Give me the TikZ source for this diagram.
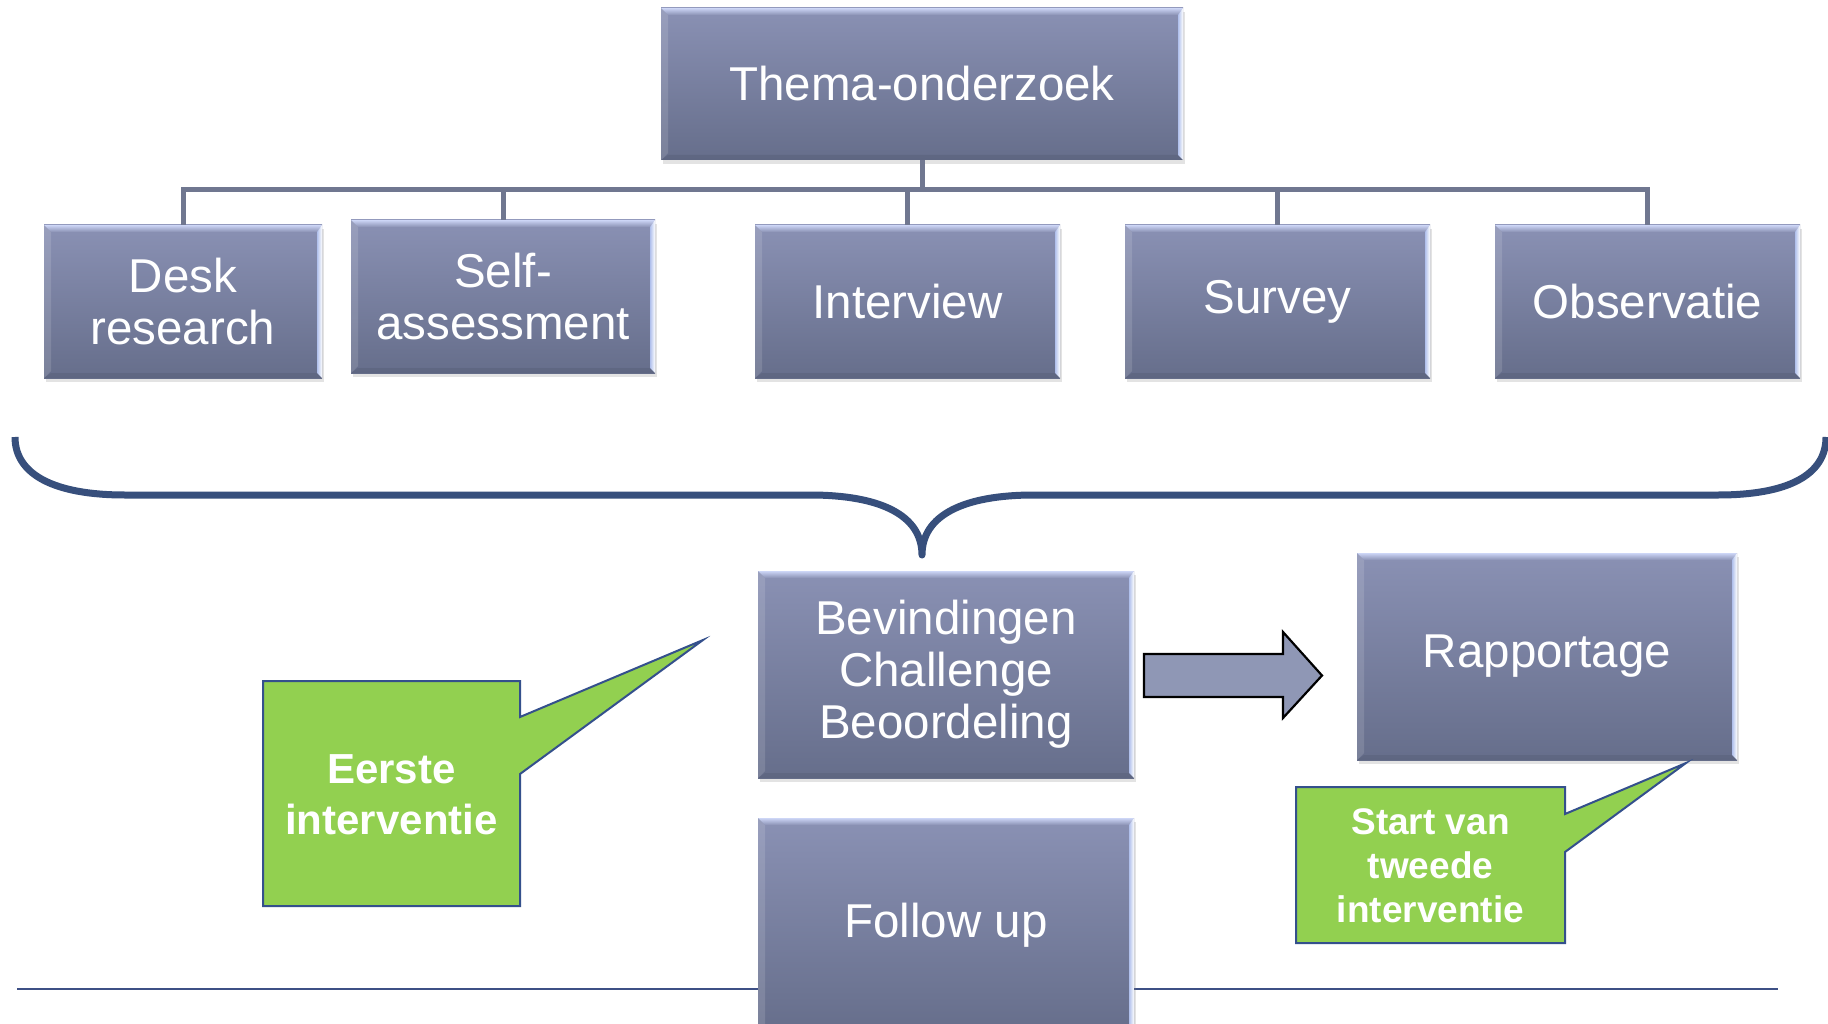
\documentclass[tikz,border=0pt]{standalone}
\usepackage{fontspec}
\setmainfont{Liberation Sans}
\usetikzlibrary{shadows}
\definecolor{boxtop}{RGB}{138,145,180}
\definecolor{boxbot}{RGB}{102,110,139}
\definecolor{bevlight}{RGB}{205,214,246}
\definecolor{rbev}{RGB}{176,192,236}
\definecolor{conncol}{RGB}{112,119,144}
\definecolor{bracecol}{RGB}{55,79,124}
\definecolor{greenfill}{RGB}{146,208,80}
\definecolor{greenedge}{RGB}{52,80,140}
\definecolor{arrowfill}{RGB}{143,151,181}
\definecolor{linecol}{RGB}{62,80,133}
\tikzset{
  stepbox/.style={rectangle, inner sep=0pt, align=center, text=white,
    top color=boxtop, bottom color=boxbot,
    font=\fontsize{47.5}{52}\selectfont,
    drop shadow={shadow xshift=1.5pt, shadow yshift=-4pt, opacity=0.22},
    path picture={
      \coordinate (ppnw) at (path picture bounding box.north west);
      \coordinate (ppne) at (path picture bounding box.north east);
      \coordinate (ppsw) at (path picture bounding box.south west);
      \coordinate (ppse) at (path picture bounding box.south east);
      \fill[white,opacity=0.13] (ppnw) -- ([shift={(7pt,-7pt)}]ppnw) -- ([shift={(7pt,7pt)}]ppsw) -- (ppsw) -- cycle;
      \fill[black,opacity=0.07] (ppsw) -- (ppse) -- ([shift={(-5pt,5pt)}]ppse) -- ([shift={(7pt,5pt)}]ppsw) -- cycle;
      \shade[top color=bevlight, bottom color=boxtop] (ppnw) -- (ppne) -- ([shift={(-5pt,-7pt)}]ppne) -- ([shift={(7pt,-7pt)}]ppnw) -- cycle;
      \shade[left color=rbev, right color=white] (ppne) -- (ppse) -- ([shift={(-5pt,5pt)}]ppse) -- ([shift={(-5pt,-7pt)}]ppne) -- cycle;
    }},
  conn/.style={draw=conncol, line width=5pt},
  brace/.style={draw=bracecol, line width=7pt, line join=round},
  callout/.style={fill=greenfill, draw=greenedge, line width=2pt},
  callouttext/.style={text=white, align=center, font=\bfseries\fontsize{42}{51}\selectfont, inner sep=0pt},
  callouttextsmall/.style={text=white, align=center, font=\bfseries\fontsize{37}{44}\selectfont, inner sep=0pt},
  blockarrow/.style={fill=arrowfill, draw=black, line width=2.2pt},
  baseline/.style={draw=linecol, line width=2.5pt}
}
\begin{document}
\begin{tikzpicture}[x=1pt,y=-1pt]
\clip (0,0) rectangle (1828,1024);
\fill[white] (0,0) rectangle (1828,1024);

% top level
\node[stepbox, minimum width=522, minimum height=152] (thema) at (922,84) {Thema-onderzoek};
% second level
\node[stepbox, minimum width=278, minimum height=153] (desk) at (183,301.5) {Desk\\research};
\node[stepbox, minimum width=304, minimum height=153] (self) at (503,296.5) {Self-\\assessment};
\node[stepbox, minimum width=305, minimum height=153] (interview) at (907.5,301.5) {Interview};
\node[stepbox, minimum width=305, minimum height=153] (survey) at (1277.5,301.5) {Survey};
\node[stepbox, minimum width=305, minimum height=153] (observatie) at (1647.5,301.5) {Observatie};

% tree connectors
\coordinate (bus) at (922,190);
\draw[conn] (thema.south) -- (bus);
\draw[conn] (bus) -| (desk.north);
\draw[conn] (bus) -| (self.north);
\draw[conn] (bus) -| (interview.north);
\draw[conn] (bus) -| (survey.north);
\draw[conn] (bus) -| (observatie.north);

% brace
\draw[brace] (15,437) .. controls (15,475) and (55,495) .. (125,495) -- (810,495)
  .. controls (880,495) and (922,515) .. (922,555)
  .. controls (922,515) and (964,495) .. (1034,495) -- (1718,495)
  .. controls (1788,495) and (1826,475) .. (1826,437);

% bottom line
\coordinate (lineL) at (17,989);
\coordinate (lineR) at (1778,989);
\draw[baseline] (lineL) -- (lineR);

% lower boxes
\node[stepbox, minimum width=376, minimum height=207] (bev) at (946,674.5) {Bevindingen\\Challenge\\Beoordeling};
\node[stepbox, minimum width=376, minimum height=214] (follow) at (946,925) {\raisebox{-4pt}{Follow up}};
\node[stepbox, minimum width=380, minimum height=207] (rap) at (1547,656.5) {\raisebox{-4pt}{Rapportage}};

% block arrow
\draw[blockarrow] (1144,654) -- (1283,654) -- (1283,632) -- (1322,675.5) -- (1283,718) -- (1283,697) -- (1144,697) -- cycle;

% callout 1
\draw[callout] (263,681) -- (520,681) -- (520,717) -- (703,640) -- (520,774) -- (520,906) -- (263,906) -- cycle;
\node[callouttext] (eerste) at (391.5,795) {Eerste\\interventie};

% callout 2
\draw[callout] (1296,787) -- (1565,787) -- (1565,814) -- (1686,763) -- (1565,852) -- (1565,943) -- (1296,943) -- cycle;
\node[callouttextsmall] (tweede) at (1430.5,866) {Start van\\tweede\\interventie};
\end{tikzpicture}
\end{document}
